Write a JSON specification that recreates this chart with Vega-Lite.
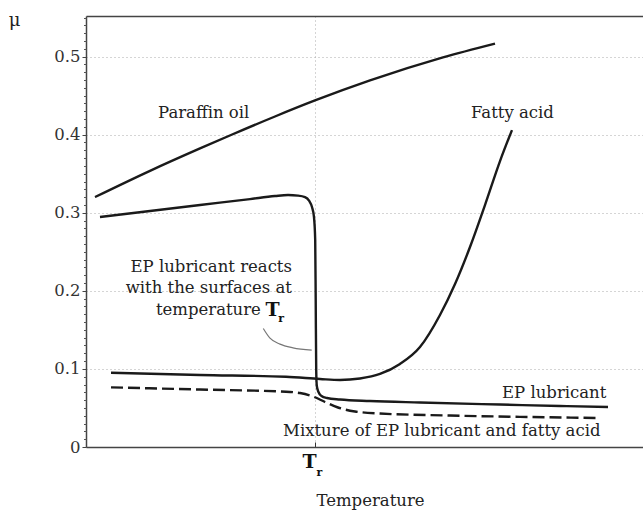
{
  "$schema": "https://vega.github.io/schema/vega-lite/v6.json",
  "width": 557,
  "height": 431,
  "autosize": {"type": "none"},
  "padding": {"left": 86, "top": 16, "right": 0, "bottom": 65},
  "background": "white",
  "config": {"view": {"stroke": null}, "font": "DejaVu Serif"},
  "datasets": {
    "curves": [
      {"series": "Paraffin oil", "t": 1.62, "mu": 0.3201},
      {"series": "Paraffin oil", "t": 11.49, "mu": 0.3537},
      {"series": "Paraffin oil", "t": 20.47, "mu": 0.3824},
      {"series": "Paraffin oil", "t": 26.03, "mu": 0.3996},
      {"series": "Paraffin oil", "t": 33.93, "mu": 0.4233},
      {"series": "Paraffin oil", "t": 41.11, "mu": 0.4438},
      {"series": "Paraffin oil", "t": 50.99, "mu": 0.4695},
      {"series": "Paraffin oil", "t": 64.09, "mu": 0.499},
      {"series": "Paraffin oil", "t": 73.43, "mu": 0.5167},
      {"series": "EP lubricant", "t": 2.51, "mu": 0.2945},
      {"series": "EP lubricant", "t": 11.49, "mu": 0.3022},
      {"series": "EP lubricant", "t": 20.47, "mu": 0.3099},
      {"series": "EP lubricant", "t": 29.44, "mu": 0.3175},
      {"series": "EP lubricant", "t": 33.93, "mu": 0.3214},
      {"series": "EP lubricant", "t": 36.27, "mu": 0.3227},
      {"series": "EP lubricant", "t": 38.06, "mu": 0.322},
      {"series": "EP lubricant", "t": 39.32, "mu": 0.3201},
      {"series": "EP lubricant", "t": 40.04, "mu": 0.3156},
      {"series": "EP lubricant", "t": 40.57, "mu": 0.3073},
      {"series": "EP lubricant", "t": 40.93, "mu": 0.2945},
      {"series": "EP lubricant", "t": 41.15, "mu": 0.265},
      {"series": "EP lubricant", "t": 41.24, "mu": 0.1882},
      {"series": "EP lubricant", "t": 41.33, "mu": 0.0986},
      {"series": "EP lubricant", "t": 41.44, "mu": 0.0781},
      {"series": "EP lubricant", "t": 41.74, "mu": 0.0704},
      {"series": "EP lubricant", "t": 42.28, "mu": 0.0653},
      {"series": "EP lubricant", "t": 43.27, "mu": 0.0627},
      {"series": "EP lubricant", "t": 45.6, "mu": 0.0608},
      {"series": "EP lubricant", "t": 50.99, "mu": 0.0589},
      {"series": "EP lubricant", "t": 59.96, "mu": 0.057},
      {"series": "EP lubricant", "t": 74.33, "mu": 0.0544},
      {"series": "EP lubricant", "t": 85.1, "mu": 0.0525},
      {"series": "EP lubricant", "t": 93.72, "mu": 0.0512},
      {"series": "Fatty acid", "t": 4.49, "mu": 0.0951},
      {"series": "Fatty acid", "t": 20.47, "mu": 0.0922},
      {"series": "Fatty acid", "t": 35.91, "mu": 0.09},
      {"series": "Fatty acid", "t": 42.01, "mu": 0.0871},
      {"series": "Fatty acid", "t": 45.6, "mu": 0.0858},
      {"series": "Fatty acid", "t": 49.19, "mu": 0.0877},
      {"series": "Fatty acid", "t": 52.78, "mu": 0.0935},
      {"series": "Fatty acid", "t": 56.37, "mu": 0.1063},
      {"series": "Fatty acid", "t": 59.96, "mu": 0.128},
      {"series": "Fatty acid", "t": 63.55, "mu": 0.169},
      {"series": "Fatty acid", "t": 66.25, "mu": 0.2087},
      {"series": "Fatty acid", "t": 68.94, "mu": 0.2561},
      {"series": "Fatty acid", "t": 71.63, "mu": 0.3099},
      {"series": "Fatty acid", "t": 74.33, "mu": 0.3662},
      {"series": "Fatty acid", "t": 76.48, "mu": 0.4059},
      {"series": "Mixture", "t": 4.49, "mu": 0.0764},
      {"series": "Mixture", "t": 20.47, "mu": 0.0736},
      {"series": "Mixture", "t": 35.91, "mu": 0.0708},
      {"series": "Mixture", "t": 38.42, "mu": 0.0691},
      {"series": "Mixture", "t": 40.75, "mu": 0.0647},
      {"series": "Mixture", "t": 42.91, "mu": 0.0576},
      {"series": "Mixture", "t": 45.24, "mu": 0.0506},
      {"series": "Mixture", "t": 48.29, "mu": 0.0455},
      {"series": "Mixture", "t": 52.78, "mu": 0.0429},
      {"series": "Mixture", "t": 65.35, "mu": 0.0403},
      {"series": "Mixture", "t": 79.71, "mu": 0.0384},
      {"series": "Mixture", "t": 92.28, "mu": 0.0371}
    ],
    "leader": [
      {"t": 31.83, "mu": 0.1518},
      {"t": 33.03, "mu": 0.1394},
      {"t": 34.83, "mu": 0.1317},
      {"t": 37.16, "mu": 0.127},
      {"t": 40.52, "mu": 0.124}
    ],
    "leftLabels": [
      {"text": "Paraffin oil", "t": 12.93, "mu": 0.4277},
      {"text": "Fatty acid", "t": 69.12, "mu": 0.4277},
      {"text": "EP lubricant", "t": 74.69, "mu": 0.0691},
      {"text": "Mixture of EP lubricant and fatty acid", "t": 35.37, "mu": 0.0205}
    ],
    "rightLabels": [
      {"text": "EP lubricant reacts", "t": 36.98, "mu": 0.2309},
      {"text": "with the surfaces at", "t": 36.98, "mu": 0.2036},
      {"text": "temperature", "t": 31.4, "mu": 0.1754}
    ],
    "bigT": [
      {"text": "T", "t": 33.5, "mu": 0.1754},
      {"text": "T", "t": 40.13, "mu": -0.0192}
    ],
    "subR": [
      {"text": "r", "t": 35.05, "mu": 0.1645},
      {"text": "r", "t": 41.92, "mu": -0.0339}
    ]
  },
  "layer": [
    {
      "data": {"name": "curves"},
      "transform": [{"filter": "datum.series !== 'Mixture'"}],
      "mark": {"type": "line", "interpolate": "monotone", "color": "#1a1a1a", "strokeWidth": 2.4},
      "encoding": {
        "x": {
          "field": "t", "type": "quantitative",
          "scale": {"domain": [0, 100], "nice": false, "zero": false},
          "axis": {
            "orient": "bottom", "values": [41.11], "labels": false, "ticks": true, "tickSize": -5,
            "tickColor": "#333", "grid": true, "gridDash": [1, 3], "gridColor": "#aaa",
            "domainColor": "#444", "domainWidth": 1.5,
            "title": "Temperature", "titleFont": "DejaVu Serif", "titleFontSize": 16.5, "titleFontWeight": "normal",
            "titleColor": "#222", "titleX": 284, "titleY": 53, "titleAlign": "center", "titleBaseline": "middle"
          }
        },
        "y": {
          "field": "mu", "type": "quantitative",
          "scale": {"domain": [0, 0.552], "nice": false},
          "axis": {
            "orient": "left", "values": [0, 0.1, 0.2, 0.3, 0.4, 0.5], "labelExpr": "datum.value === 0 ? '0' : format(datum.value, '.1f')",
            "labelFont": "DejaVu Serif", "labelFontSize": 16.5, "labelColor": "#333", "labelPadding": 2,
            "tickSize": 4, "tickColor": "#444", "grid": true, "gridDash": [1, 3], "gridColor": "#aaa",
            "domainColor": "#444", "domainWidth": 1.5,
            "title": "μ", "titleFont": "DejaVu Serif", "titleFontSize": 18, "titleFontWeight": "normal", "titleColor": "#222",
            "titleAngle": 0, "titleX": -72, "titleY": 4, "titleAlign": "center", "titleBaseline": "middle"
          }
        },
        "detail": {"field": "series"}
      }
    },
    {
      "data": {"name": "curves"},
      "transform": [{"filter": "datum.series === 'Mixture'"}],
      "mark": {"type": "line", "interpolate": "monotone", "color": "#1a1a1a", "strokeWidth": 2.4, "strokeDash": [12, 5]},
      "encoding": {
        "x": {
          "field": "t", "type": "quantitative",
          "scale": {"domain": [0, 100], "nice": false, "zero": false},
          "axis": {"orient": "top", "labels": false, "ticks": false, "grid": false, "title": null, "domainColor": "#444", "domainWidth": 1.5}
        },
        "y": {
          "field": "mu", "type": "quantitative",
          "scale": {"domain": [0, 0.552], "nice": false},
          "axis": {
            "orient": "left", "values": [0.01, 0.02, 0.03, 0.04, 0.05, 0.06, 0.07, 0.08, 0.09, 0.11, 0.12, 0.13, 0.14, 0.15, 0.16, 0.17, 0.18, 0.19, 0.21, 0.22, 0.23, 0.24, 0.25, 0.26, 0.27, 0.28, 0.29, 0.31, 0.32, 0.33, 0.34, 0.35, 0.36, 0.37, 0.38, 0.39, 0.41, 0.42, 0.43, 0.44, 0.45, 0.46, 0.47, 0.48, 0.49, 0.51, 0.52, 0.53, 0.54, 0.55],
            "labels": false, "tickSize": 2.5, "tickColor": "#555", "grid": false, "domain": false, "title": null
          }
        }
      }
    },
    {
      "data": {"name": "leader"},
      "mark": {"type": "line", "interpolate": "monotone", "color": "#777", "strokeWidth": 1.2},
      "encoding": {
        "x": {"field": "t", "type": "quantitative", "scale": {"domain": [0, 100], "nice": false, "zero": false}, "axis": null},
        "y": {"field": "mu", "type": "quantitative", "scale": {"domain": [0, 0.552], "nice": false}, "axis": null}
      }
    },
    {
      "data": {"name": "leftLabels"},
      "mark": {"type": "text", "align": "left", "baseline": "middle", "font": "DejaVu Serif", "fontSize": 16.5, "color": "#222"},
      "encoding": {
        "x": {"field": "t", "type": "quantitative", "scale": {"domain": [0, 100], "nice": false, "zero": false}, "axis": null},
        "y": {"field": "mu", "type": "quantitative", "scale": {"domain": [0, 0.552], "nice": false}, "axis": null},
        "text": {"field": "text"}
      }
    },
    {
      "data": {"name": "rightLabels"},
      "mark": {"type": "text", "align": "right", "baseline": "middle", "font": "DejaVu Serif", "fontSize": 16.5, "color": "#222"},
      "encoding": {
        "x": {"field": "t", "type": "quantitative", "scale": {"domain": [0, 100], "nice": false, "zero": false}, "axis": null},
        "y": {"field": "mu", "type": "quantitative", "scale": {"domain": [0, 0.552], "nice": false}, "axis": null},
        "text": {"field": "text"}
      }
    },
    {
      "data": {"name": "bigT"},
      "mark": {"type": "text", "align": "center", "baseline": "middle", "font": "DejaVu Serif", "fontSize": 19, "fontWeight": "bold", "color": "#111"},
      "encoding": {
        "x": {"field": "t", "type": "quantitative", "scale": {"domain": [0, 100], "nice": false, "zero": false}, "axis": null},
        "y": {"field": "mu", "type": "quantitative", "scale": {"domain": [0, 0.552], "nice": false}, "axis": null},
        "text": {"field": "text"}
      }
    },
    {
      "data": {"name": "subR"},
      "mark": {"type": "text", "align": "center", "baseline": "middle", "font": "DejaVu Serif", "fontSize": 11, "fontWeight": "bold", "color": "#111"},
      "encoding": {
        "x": {"field": "t", "type": "quantitative", "scale": {"domain": [0, 100], "nice": false, "zero": false}, "axis": null},
        "y": {"field": "mu", "type": "quantitative", "scale": {"domain": [0, 0.552], "nice": false}, "axis": null},
        "text": {"field": "text"}
      }
    }
  ],
  "resolve": {"axis": {"x": "independent", "y": "independent"}}
}
